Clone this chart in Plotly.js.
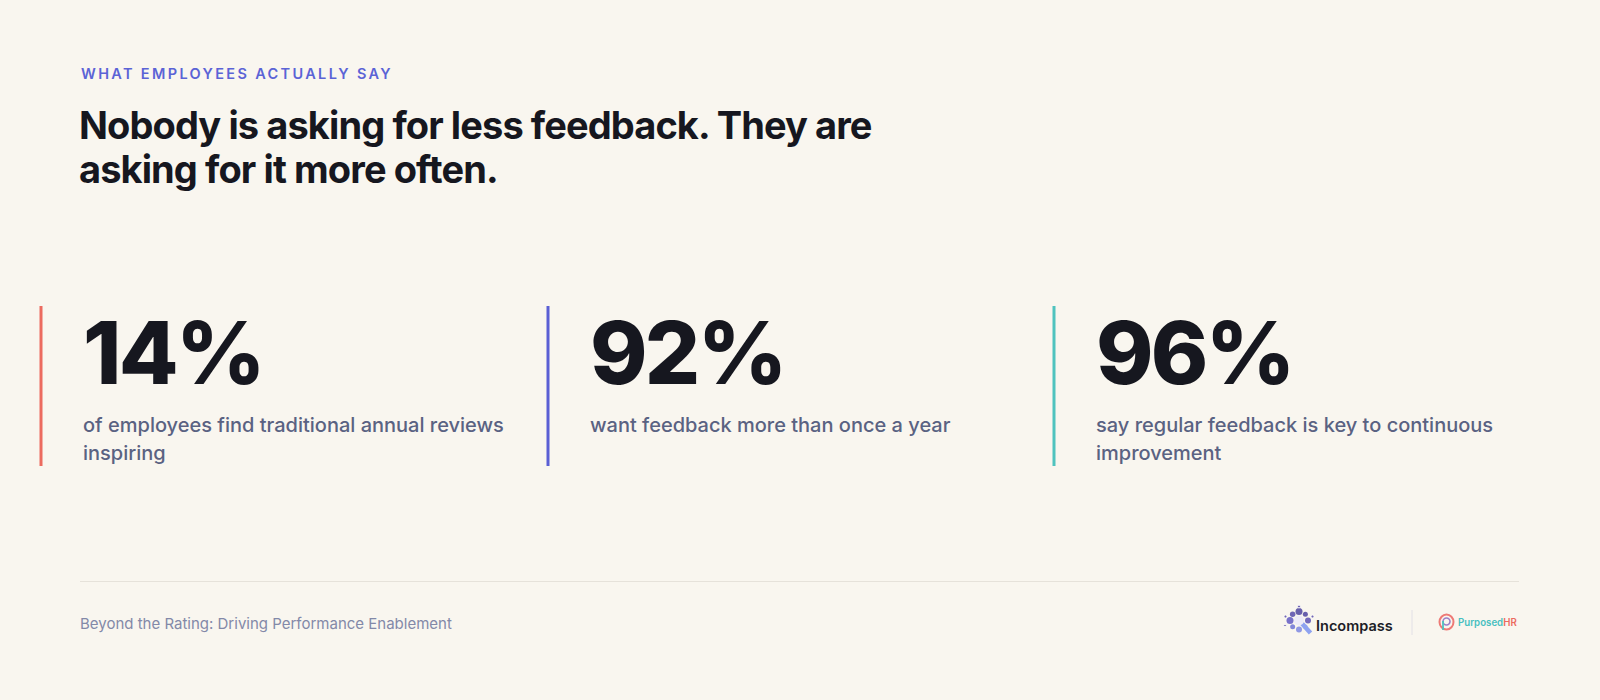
<!DOCTYPE html>
<html><head><meta charset="utf-8">
<script src="https://cdn.plot.ly/plotly-3.0.1.min.js"></script>
<style>html,body{margin:0;padding:0;background:#f9f6ef;}#chart{width:1600px;height:700px;}</style>
</head><body><div id="chart"></div>
<script>
// ---- data ----
const kicker = "WHAT EMPLOYEES ACTUALLY SAY";
const titleLines = ["Nobody is asking for less feedback. They are", "asking for it more often."];
const statValues = [14, 92, 96];
const statLabelLines = [
  ["of employees find traditional annual reviews", "inspiring"],
  ["want feedback more than once a year"],
  ["say regular feedback is key to continuous", "improvement"]
];
const accentColors = ["#ec6b5f", "#5a5fd4", "#4fc3be"];
const footerText = "Beyond the Rating: Driving Performance Enablement";
const brandA = "Incompass";
const brandB = ["Purposed", "HR"];

// ---- layout constants ----
const BG = "#f9f6ef";
const colX = [41, 548, 1054];
const barTop = 306, barBot = 466;

const shapes = [];
const annotations = [];
const traces = [];
const spacing = {};   // annotation index -> letter-spacing

function ann(x, y, text, size, color, weight, ls) {
  if (ls !== undefined) spacing[annotations.length] = ls;
  annotations.push({
    x: x, y: y, xref: "x", yref: "y", text: text, showarrow: false,
    xanchor: "left", yanchor: "middle", align: "left",
    font: {family: "Inter, 'Noto Sans', sans-serif", size: size, color: color, weight: weight || 400}
  });
}

ann(79, 73.5, kicker, 14.5, "#5b63d6", 600, "2.35px");
titleLines.forEach((t, i) => ann(77, 124.5 + i * 44.5, t, 38, "#16171f", 700, "-0.9px"));

statValues.forEach((v, i) => {
  shapes.push({type: "line", xref: "x", yref: "y", x0: colX[i], x1: colX[i], y0: barTop, y1: barBot,
    line: {color: accentColors[i], width: 3}});
  ann(colX[i] + 40, 352.5, v + "%", 87, "#16171f", 800, "-2.7px");
  statLabelLines[i].forEach((l, j) => ann(colX[i] + 40, 424.5 + j * 28.5, l, 20, "#5a6282", 500));
});

// footer
shapes.push({type: "line", xref: "x", yref: "y", x0: 80, x1: 1519, y0: 581.5, y1: 581.5, line: {color: "#e6e2da", width: 1}});
ann(78, 623.5, footerText, 15, "#8389a8", 400);
ann(1314, 625, brandA, 14.5, "#1d1d27", 600);
shapes.push({type: "line", xref: "x", yref: "y", x0: 1412, x1: 1412, y0: 610, y1: 635, line: {color: "#e2e0e6", width: 1}});
ann(1456, 622, "<span style='color:#47bfc0'>" + brandB[0] + "</span><span style='color:#ec6b5f'>" + brandB[1] + "</span>", 9.7, "#47bfc0", 600);

// Incompass icon: ring of dots + handle
const icx = 1299, icy = 620.5;
const ringAng = [0, 45, 90, 135, 180, 225, 270, 315];
const ringSize = [6, 5, 7, 5.5, 7, 5, 6, 4.5];
const ringCol = ["#3a2ea6", "#2a1f8e", "#2a1f8e", "#33289c", "#4239bb", "#5058d0", "#6470e0", "#7a8bec"];
shapes.push({type: "line", xref: "x", yref: "y", x0: icx + 3, y0: icy + 3, x1: icx + 11.5, y1: icy + 12.5,
  line: {color: "#8ea2f0", width: 4.5}});
shapes.push({type: "circle", xref: "x", yref: "y", x0: icx - 5, x1: icx + 5, y0: icy - 5, y1: icy + 5,
  fillcolor: "#eceaf8", line: {width: 0}});
traces.push({type: "scatter", mode: "markers", hoverinfo: "skip",
  x: ringAng.map(a => icx + 9 * Math.cos(a * Math.PI / 180)),
  y: ringAng.map(a => icy - 9 * Math.sin(a * Math.PI / 180)),
  marker: {size: ringSize, color: ringCol, line: {width: 0}}});
traces.push({type: "scatter", mode: "markers", hoverinfo: "skip",
  x: [icx - 13.5, icx + 13.5, icx, icx - 14],
  y: [icy - 4, icy - 4, icy - 14, icy + 5],
  marker: {size: [3, 3, 3, 2.5], color: "#3a2a9a"}});

// PurposedHR icon
const pcx = 1446.5, pcy = 622;
shapes.push({type: "circle", xref: "x", yref: "y", x0: pcx - 7, x1: pcx + 7, y0: pcy - 7.5, y1: pcy + 7.5,
  line: {color: "#ee7a76", width: 2}});
shapes.push({type: "circle", xref: "x", yref: "y", x0: pcx - 3.5, x1: pcx + 3.5, y0: pcy - 4, y1: pcy + 3,
  line: {color: "#9c7fc8", width: 1.6}});
shapes.push({type: "line", xref: "x", yref: "y", x0: pcx - 3.5, x1: pcx - 3.5, y0: pcy - 1, y1: pcy + 8,
  line: {color: "#4fc3be", width: 1.8}});

const layout = {
  width: 1600, height: 700,
  margin: {l: 0, r: 0, t: 0, b: 0, pad: 0},
  paper_bgcolor: BG, plot_bgcolor: BG,
  showlegend: false,
  xaxis: {range: [0, 1600], visible: false, fixedrange: true},
  yaxis: {range: [700, 0], visible: false, fixedrange: true},
  shapes: shapes, annotations: annotations
};

Plotly.newPlot("chart", traces, layout, {staticPlot: true, displayModeBar: false}).then(() => {
  document.querySelectorAll("g.annotation").forEach(g => {
    const idx = g.getAttribute("data-index");
    if (spacing[idx] !== undefined) {
      const t = g.querySelector(".annotation-text");
      if (t) t.style.letterSpacing = spacing[idx];
    }
  });
});
</script></body></html>
